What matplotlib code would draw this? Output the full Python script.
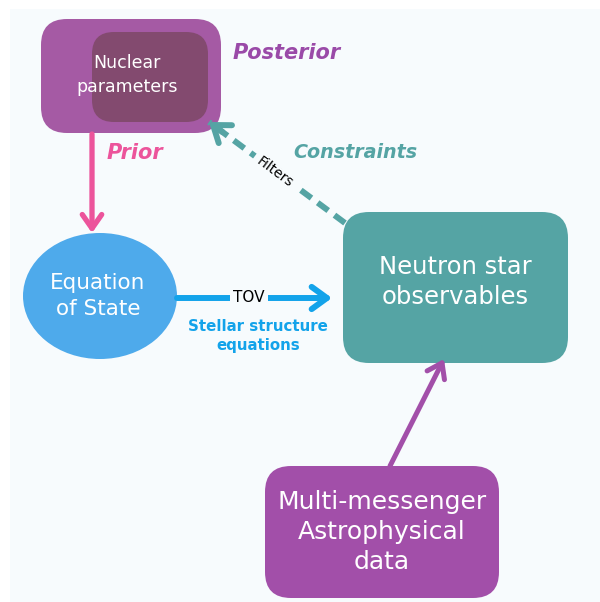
import matplotlib.pyplot as plt
from matplotlib.patches import FancyBboxPatch, Ellipse, Rectangle, FancyArrowPatch

# node labels
node_names = ['Nuclear\nparameters', 'Equation\nof State', 'Neutron star\nobservables',
              'Multi-messenger\nAstrophysical\ndata']
# edge labels
edge_tags = ['Prior', 'Posterior', 'Constraints', 'Stellar structure\nequations']
edge_small = ['TOV', 'Filters']

bg = '#f7fbfd'
purple = '#a55aa4'
dark_purple = '#834a6f'
teal = '#55a4a4'
blue_ell = '#4eaaeb'
blue = '#13a3ea'
pink = '#ec549b'
purple2 = '#a24fa9'
lab_purple = '#9a4aa8'

fig = plt.figure(figsize=(6, 6.02), dpi=100)
ax = fig.add_axes([0, 0, 1, 1])
ax.set_xlim(0, 600)
ax.set_ylim(602, 0)
ax.axis('off')

ax.add_patch(Rectangle((10, 9), 590, 593, facecolor=bg, edgecolor='none'))


def rbox(x0, y0, x1, y1, r, col, z=2):
    ax.add_patch(FancyBboxPatch((x0, y0), x1 - x0, y1 - y0,
                                boxstyle='round,pad=0,rounding_size=%d' % r,
                                facecolor=col, edgecolor='none', zorder=z))


def arrow(p0, p1, col, lw=3.8, ls='-', hl=10, hw=7):
    if ls == '-':
        ax.add_patch(FancyArrowPatch(p0, p1, arrowstyle='->,head_length=%g,head_width=%g' % (hl, hw),
                                     mutation_scale=1, color=col, lw=lw, capstyle='round',
                                     joinstyle='round', shrinkA=0, shrinkB=0, zorder=3))
    else:
        ax.plot([p0[0], p1[0]], [p0[1], p1[1]], color=col, lw=lw, ls=(0, (2.2, 1.3)), zorder=3)
        # solid head
        dx, dy = p1[0] - p0[0], p1[1] - p0[1]
        q = (p1[0] - dx * 0.1, p1[1] - dy * 0.1)
        ax.add_patch(FancyArrowPatch(q, p1, arrowstyle='->,head_length=%g,head_width=%g' % (hl, hw),
                                     mutation_scale=1, color=col, lw=lw, capstyle='round',
                                     joinstyle='round', shrinkA=0, shrinkB=0, zorder=3))


# Nuclear parameters
rbox(41, 19, 221, 133, 26, purple)
rbox(92, 32, 208, 122, 22, dark_purple, z=2.5)
ax.text(127, 75, node_names[0], color='white', fontsize=12.5, ha='center', va='center',
        linespacing=1.5, zorder=4)
ax.text(233, 53, edge_tags[1], color=lab_purple, fontsize=15, fontweight='bold',
        fontstyle='italic', ha='left', va='center')

# prior arrow
arrow((92, 134), (92, 233), pink)
ax.text(107, 153, edge_tags[0], color=pink, fontsize=15, fontweight='bold',
        fontstyle='italic', ha='left', va='center')

# Equation of state
ax.add_patch(Ellipse((100, 296), 154, 126, facecolor=blue_ell, edgecolor='none', zorder=2))
ax.text(98, 296, node_names[1], color='white', fontsize=15.5, ha='center', va='center',
        linespacing=1.4, zorder=4)

# TOV arrow
arrow((177, 298), (332, 298), blue, lw=4.3, hl=11, hw=8)
ax.text(249, 298, edge_small[0], color='black', fontsize=11, ha='center', va='center',
        zorder=4, bbox=dict(boxstyle='square,pad=0.2', facecolor=bg, edgecolor='none'))
ax.text(258, 336, edge_tags[3], color=blue, fontsize=10.8, fontweight='bold',
        ha='center', va='center', linespacing=1.35)

# Neutron star observables
rbox(343, 212, 568, 363, 26, teal)
ax.text(455, 282, node_names[2], color='white', fontsize=17.5, ha='center', va='center',
        linespacing=1.35, zorder=4)

# constraints arrow
arrow((345, 223), (209, 122), teal, lw=4.3, ls='--', hl=11, hw=8)
ax.text(275, 172, edge_small[1], color='black', fontsize=10, ha='center', va='center',
        rotation=-36.5, rotation_mode='anchor', zorder=4,
        bbox=dict(boxstyle='square,pad=0.35', facecolor=bg, edgecolor='none'))
ax.text(293, 153, edge_tags[2], color=teal, fontsize=13.8, fontweight='bold',
        fontstyle='italic', ha='left', va='center')

# multi-messenger
rbox(265, 466, 499, 598, 26, purple2)
arrow((390, 466), (444, 359), purple2, lw=3.6)
ax.text(382, 532, node_names[3], color='white', fontsize=18, ha='center', va='center',
        linespacing=1.3, zorder=4)

fig.savefig('out.png', dpi=100)
